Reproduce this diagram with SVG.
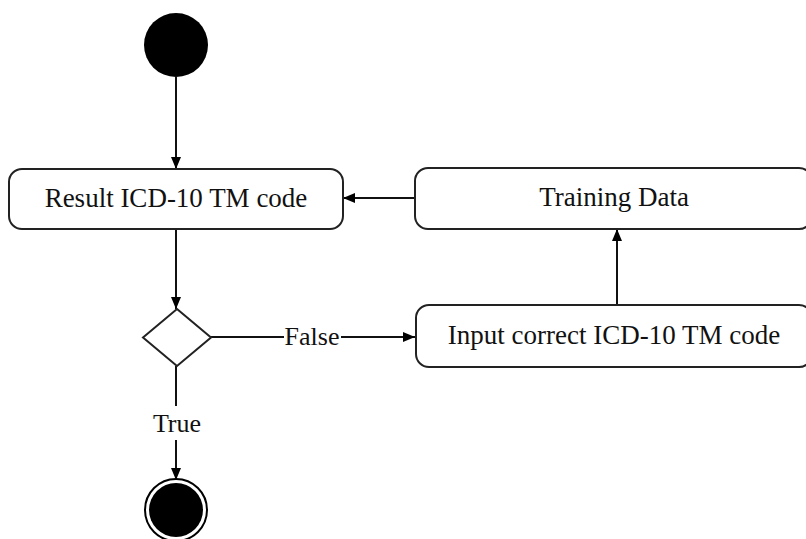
<svg xmlns="http://www.w3.org/2000/svg" width="806" height="539" viewBox="0 0 806 539">
  <defs>
    <marker id="arrow" viewBox="0 0 12 12" refX="12" refY="6" markerWidth="12" markerHeight="12" markerUnits="userSpaceOnUse" orient="auto">
      <path d="M0,1 L12,6 L0,11 Z" fill="#000"/>
    </marker>
    <style>
      .box { fill: #fff; stroke: #222; stroke-width: 2; }
      .edge { fill: none; stroke: #111; stroke-width: 2; }
      .lbl { font-family: "Liberation Serif", "Times New Roman", serif; font-size: 26px; fill: #111; text-anchor: middle; dominant-baseline: central; }
      .big { font-size: 27px; }
    </style>
  </defs>
  <rect width="806" height="539" fill="#fff"/>

  <g id="connectors">
    <line class="edge" x1="176" y1="77" x2="176" y2="169" marker-end="url(#arrow)"/>
    <line class="edge" x1="415" y1="198" x2="343" y2="198" marker-end="url(#arrow)"/>
    <line class="edge" x1="176" y1="229" x2="176" y2="309" marker-end="url(#arrow)"/>
    <line class="edge" x1="211" y1="337" x2="284" y2="337"/>
    <line class="edge" x1="341" y1="337" x2="415" y2="337" marker-end="url(#arrow)"/>
    <line class="edge" x1="617" y1="305" x2="617" y2="229" marker-end="url(#arrow)"/>
    <line class="edge" x1="176" y1="366" x2="176" y2="406"/>
    <line class="edge" x1="176" y1="440" x2="176" y2="480" marker-end="url(#arrow)"/>
    <text class="lbl" x="312" y="336">False</text>
    <text class="lbl" x="177" y="423">True</text>
  </g>

  <g id="start">
    <circle cx="176" cy="45" r="32" fill="#000"/>
  </g>

  <g id="result">
    <rect class="box" x="9" y="169" width="334" height="60" rx="13"/>
    <text class="lbl big" x="176" y="198">Result ICD-10 TM code</text>
  </g>

  <g id="training">
    <rect class="box" x="415" y="168" width="397" height="61" rx="13"/>
    <text class="lbl big" x="614" y="197">Training Data</text>
  </g>

  <g id="decision">
    <polygon class="box" points="177,309 211,337.5 177,366 143,337.5"/>
  </g>

  <g id="input">
    <rect class="box" x="416" y="305" width="396" height="62" rx="13"/>
    <text class="lbl big" x="614" y="335">Input correct ICD-10 TM code</text>
  </g>

  <g id="end">
    <circle cx="176" cy="510" r="31" fill="#fff" stroke="#000" stroke-width="2"/>
    <circle cx="176" cy="510" r="27" fill="#000"/>
  </g>
</svg>
